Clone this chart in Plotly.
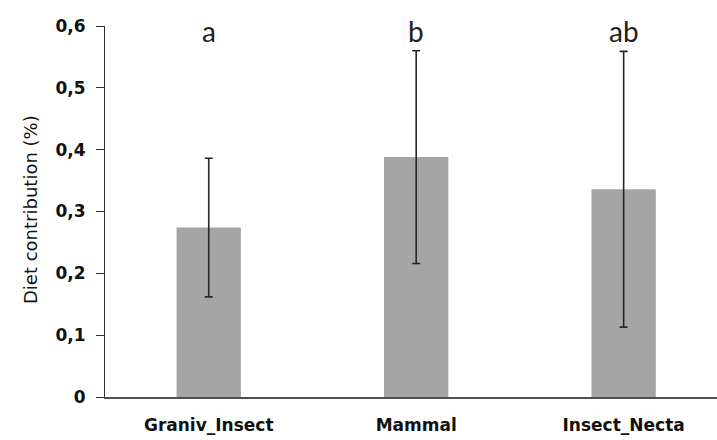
import plotly.graph_objects as go

# Diet contribution per feeding guild (mean ± error)
categories = ["Graniv_Insect", "Mammal", "Insect_Necta"]
means = [0.274, 0.388, 0.336]
errors = [0.112, 0.172, 0.223]
group_letters = ["a", "b", "ab"]

y_tick_values = [0, 0.1, 0.2, 0.3, 0.4, 0.5, 0.6]
y_tick_labels = ["0", "0,1", "0,2", "0,3", "0,4", "0,5", "0,6"]

W, H = 717, 440
L, R, T, B = 105, 0, 26, 43

fig = go.Figure(
    go.Bar(
        x=list(range(len(categories))),
        y=means,
        width=0.31,
        marker=dict(color="#a5a5a5", line=dict(width=0)),
        error_y=dict(
            type="data",
            array=errors,
            symmetric=True,
            color="#262626",
            thickness=1.6,
            width=4,
        ),
    )
)

# significance letters above each bar
for i, letter in enumerate(group_letters):
    fig.add_annotation(
        x=i, y=0.592, xref="x", yref="y",
        text=letter, showarrow=False,
        xanchor="center", yanchor="middle",
        font=dict(family="Lato, Noto Sans, sans-serif", size=28, color="#222222"),
    )

# y-axis title
plot_w = W - L - R
plot_h = H - T - B
fig.add_annotation(
    x=(30 - L) / plot_w, y=(H - B - 210) / plot_h,
    xref="paper", yref="paper",
    text="Diet contribution (%)", showarrow=False, textangle=-90,
    xanchor="center", yanchor="middle",
    font=dict(family="DejaVu Sans, sans-serif", size=18, color="#111111"),
)

fig.update_layout(
    width=W, height=H,
    margin=dict(l=L, r=R, t=T, b=B, pad=0),
    paper_bgcolor="white", plot_bgcolor="white",
    showlegend=False,
    xaxis=dict(
        range=[-0.5, 2.45],
        tickvals=list(range(len(categories))),
        ticktext=categories,
        showline=True, linecolor="#505050", linewidth=2,
        ticks="", showgrid=False, zeroline=False,
        ticklabelstandoff=12,
        tickfont=dict(family="DejaVu Sans, sans-serif", size=17, color="#111111", weight="bold"),
    ),
    yaxis=dict(
        range=[0, 0.6],
        tickvals=y_tick_values,
        ticktext=y_tick_labels,
        showline=True, linecolor="#303030", linewidth=1.2,
        ticks="outside", ticklen=8, tickcolor="#303030", tickwidth=1.2,
        showgrid=False, zeroline=False,
        ticklabelstandoff=7,
        tickfont=dict(family="DejaVu Sans, sans-serif", size=17, color="#111111", weight="bold"),
    ),
)

fig.write_html("out.html")
